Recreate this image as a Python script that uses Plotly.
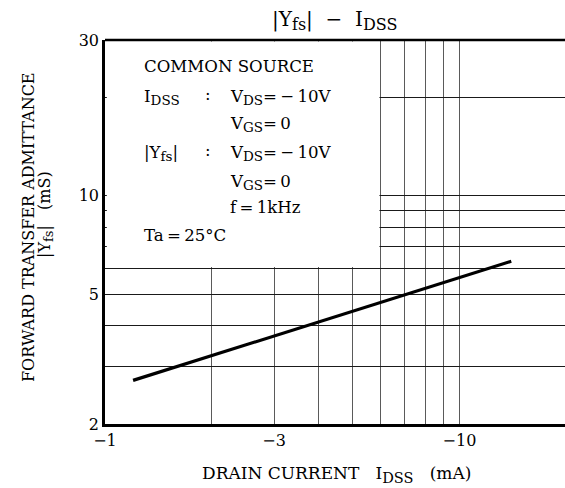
import numpy as np
import plotly.graph_objects as go

# ---- data ----
idss_mA = [1.2, 2.0, 3.0, 5.0, 7.0, 10.0, 14.0]        # |I_DSS| in mA (axis shows negative)
yfs_mS = [2.72, 3.24, 3.72, 4.43, 4.97, 5.61, 6.30]

x_grid_vals = [1, 2, 3, 4, 5, 6, 7, 8, 9, 10]
x_tick_text = ["\u22121", "", "\u22123", "", "", "", "", "", "", "\u221210"]
y_grid_vals = [2, 3, 4, 5, 6, 7, 8, 9, 10, 20, 30]
y_tick_text = ["2", "", "", "5", "", "", "", "", "10", "", "30"]

x_min, x_max = 1.0, 19.85
y_min, y_max = 2.0, 30.0
box_x_end, box_y_start = 6.0, 6.0

FONT = "DejaVu Serif"
FS = 16
FSB = 16.6
W, H = 565, 488
ML, MR, MT, MB = 105, 0, 40, 64
pw, ph = W - ML - MR, H - MT - MB


def px(xpix):
    return (xpix - ML) / pw


def py(ypix):
    return (H - MB - ypix) / ph


def sub(s, size=13.5):
    return f"<sub><span style='font-size:{size}px'>{s}</span></sub>"


fig = go.Figure()
fig.add_trace(go.Scatter(x=idss_mA, y=yfs_mS, mode="lines",
                         line=dict(color="black", width=3.2), showlegend=False,
                         hoverinfo="skip"))

lx0, lx1 = np.log10(x_min), np.log10(x_max)
ly0, ly1 = np.log10(y_min), np.log10(y_max)
bx = (np.log10(box_x_end) - lx0) / (lx1 - lx0)
by = (np.log10(box_y_start) - ly0) / (ly1 - ly0)
fig.add_shape(type="rect", xref="paper", yref="paper", x0=0.004, x1=bx - 0.003,
              y0=by + 0.003, y1=0.996, fillcolor="white", line=dict(width=0),
              layer="above")

fig.update_xaxes(type="log", range=[lx0, lx1], tickvals=x_grid_vals, ticktext=x_tick_text,
                 showgrid=True, gridcolor="#5a5a5a", gridwidth=1.3, ticks="",
                 showline=True, linecolor="black", linewidth=2.5, mirror=False,
                 tickfont=dict(family=FONT, size=FS, color="black"), zeroline=False)
fig.update_yaxes(type="log", range=[ly0, ly1], tickvals=y_grid_vals, ticktext=y_tick_text,
                 showgrid=True, gridcolor="#1a1a1a", gridwidth=1, ticks="",
                 showline=True, linecolor="black", linewidth=2.5,
                 tickfont=dict(family=FONT, size=FS, color="black"), zeroline=False,
                 ticklabelstandoff=0)

# top border
fig.add_shape(type="line", xref="paper", yref="paper", x0=0, x1=1, y0=1, y1=1,
              line=dict(color="black", width=2.5), layer="above")

ann = []


def text(s, xpix, ypix, size=FSB, xanchor="left", angle=0):
    ann.append(dict(text=s, x=px(xpix), y=py(ypix), xref="paper", yref="paper",
                    xanchor=xanchor, yanchor="middle", showarrow=False, textangle=angle,
                    font=dict(family=FONT, size=size, color="black")))


T = "\u2009"
text("COMMON SOURCE", 142, 66)
text("I" + sub("DSS"), 142, 97)
text(":", 203, 94)
text("V" + sub("DS") + "=" + T + "\u2212" + T + "10V", 228, 97)
text("V" + sub("GS") + "=" + T + "0", 228, 124)
text("|Y" + sub("fs") + "|", 142, 153)
text(":", 203, 150)
text("V" + sub("DS") + "=" + T + "\u2212" + T + "10V", 228, 153)
text("V" + sub("GS") + "=" + T + "0", 228, 182)
text("f" + T + "=" + T + "1kHz", 228, 207)
text("Ta" + T + "=" + T + "25\u00b0C", 142, 235)

# titles
text("|Y" + sub("fs", 16) + "|  \u2212  I" + sub("DSS", 16), 334, 20, size=20, xanchor="center")
text("DRAIN CURRENT   I" + sub("DSS", 14.5) + "   (mA)", 336, 474, size=17, xanchor="center")
text("FORWARD TRANSFER ADMITTANCE", 28, 227, size=FS, xanchor="center", angle=-90)
text("|Y" + sub("fs", 13) + "|   (mS)", 45, 215, size=FS, xanchor="center", angle=-90)

fig.update_layout(width=W, height=H, margin=dict(l=ML, r=MR, t=MT, b=MB),
                  plot_bgcolor="white", paper_bgcolor="white", annotations=ann,
                  showlegend=False)

fig.write_html("out.html", config={"displayModeBar": False},
               post_script="document.body.style.margin='0';")
